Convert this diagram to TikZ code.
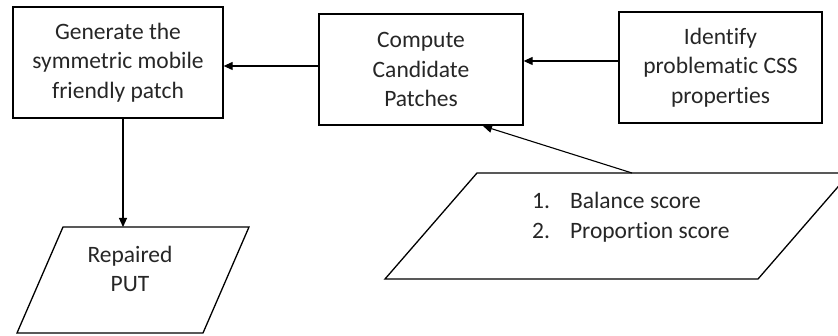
\documentclass[tikz,border=0pt]{standalone}
\usepackage{fontspec}
\setmainfont{Carlito}[Ligatures={CommonOff,ContextualOff}]
\usetikzlibrary{arrows.meta}
\begin{document}
\begin{tikzpicture}[x=1pt,y=-1pt,
  every node/.style={font=\fontsize{23.5}{29.5}\selectfont, text=black!85},
  procbox/.style={draw, line width=1.3pt, inner sep=0pt, align=center},
  flow/.style={line width=1.1pt, -{Triangle[length=9pt,width=8pt]}},
  io/.style={draw, line width=1.3pt, line join=miter}]
  \useasboundingbox (0,0) rectangle (838,336);

  % process boxes
  \node[procbox, minimum width=210pt, minimum height=111pt] (gen) at (118,62.5)
    {Generate the\\symmetric mobile\\friendly patch};
  \node[procbox, minimum width=204pt, minimum height=111pt] (cand) at (421,69.5)
    {Compute\\Candidate\\Patches};
  \node[procbox, minimum width=203pt, minimum height=111pt] (ident) at (720.5,67.5)
    {Identify\\problematic CSS\\properties};

  % output parallelogram
  \draw[io] (63,227) -- (249,227) -- (203,333) -- (17,333) -- cycle;
  \coordinate (repTop) at (123,227);
  \node[align=center] (rep) at (130,269) {Repaired\\PUT};

  % input parallelogram with the scores
  \draw[io] (477,173) -- (850,173) -- (758,279) -- (385,279) -- cycle;
  \coordinate (scoreTop) at (632,173);
  \node[anchor=west, inner sep=0pt] (scores) at (532,217.5)
    {\begin{tabular}{@{}l@{\hspace{20pt}}l@{}}1. & Balance score\\2. & Proportion score\end{tabular}};

  % connectors
  \draw[flow] (ident.west |- 0,61) -- (cand.east |- 0,61);
  \draw[flow] (cand.west |- 0,66) -- (gen.east |- 0,66);
  \draw[flow] (gen.south -| 123,0) -- (repTop);
  \draw[flow] (scoreTop) -- (483,126);
\end{tikzpicture}
\end{document}
